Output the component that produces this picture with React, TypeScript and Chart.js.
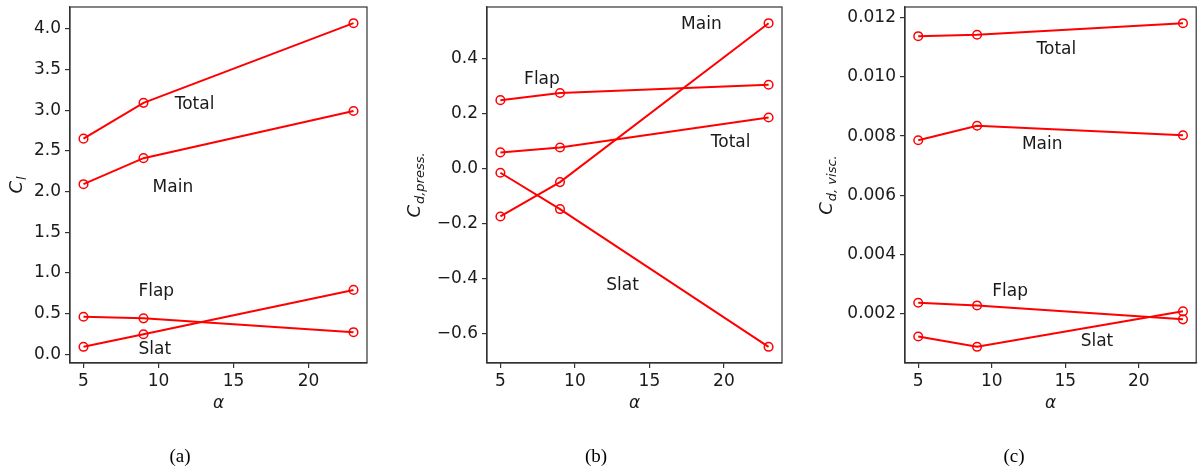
import React, { useEffect, useRef } from "react";
import { Chart, registerables } from "chart.js";

Chart.register(...registerables);

// Angle of attack (deg) at which each case was run
const ALPHA = [5, 9, 23];
const X_TICKS = [5, 10, 15, 20];

// (a) lift coefficient per element
const CL_TOTAL = [2.65, 3.09, 4.07];
const CL_MAIN = [2.09, 2.41, 2.99];
const CL_FLAP = [0.46, 0.44, 0.27];
const CL_SLAT = [0.09, 0.245, 0.79];
const CL_TICKS = [0, 0.5, 1.0, 1.5, 2.0, 2.5, 3.0, 3.5, 4.0];

// (b) pressure drag coefficient per element
const CDP_MAIN = [-0.175, -0.05, 0.528];
const CDP_FLAP = [0.248, 0.274, 0.304];
const CDP_TOTAL = [0.058, 0.076, 0.185];
const CDP_SLAT = [-0.016, -0.148, -0.649];
const CDP_TICKS = [-0.6, -0.4, -0.2, 0, 0.2, 0.4];

// (c) viscous drag coefficient per element
const CDV_TOTAL = [0.01138, 0.01143, 0.01182];
const CDV_MAIN = [0.00786, 0.00835, 0.00803];
const CDV_FLAP = [0.00236, 0.00227, 0.0018];
const CDV_SLAT = [0.00122, 0.00087, 0.00207];
const CDV_TICKS = [0.002, 0.004, 0.006, 0.008, 0.01, 0.012];

const RED = "#ff0000";
const INK = "#1a1a1a";
const AXIS = "#333333";
const FONT = "'DejaVu Sans', sans-serif";
const TEXT_SIZE = 17;
const H = 470;
const AREA_TOP = 7;
const AREA_BOTTOM = 363;
const X_MIN = 4.1;
const X_MAX = 23.9;

interface TextMark {
  text: string;
  x: number;
  y: number;
}

interface PanelSpec {
  key: string;
  left: number;
  width: number;
  areaLeft: number;
  areaRight: number;
  series: number[][];
  marks: TextMark[];
  yTicks: number[];
  yDecimals: number;
  ySub: string;
  yLabelX: number;
  caption: string;
  captionX: number;
}

const PANELS: PanelSpec[] = [
  {
    key: "a",
    left: 0,
    width: 400,
    areaLeft: 70,
    areaRight: 367,
    series: [CL_TOTAL, CL_MAIN, CL_FLAP, CL_SLAT],
    marks: [
      { text: "Total", x: 12.4, y: 3.07 },
      { text: "Main", x: 10.96, y: 2.05 },
      { text: "Flap", x: 9.85, y: 0.77 },
      { text: "Slat", x: 9.75, y: 0.05 },
    ],
    yTicks: CL_TICKS,
    yDecimals: 1,
    ySub: "l",
    yLabelX: 15,
    caption: "(a)",
    captionX: 180,
  },
  {
    key: "b",
    left: 400,
    width: 400,
    areaLeft: 87,
    areaRight: 382,
    series: [CDP_MAIN, CDP_FLAP, CDP_TOTAL, CDP_SLAT],
    marks: [
      { text: "Main", x: 18.49, y: 0.522 },
      { text: "Flap", x: 7.79, y: 0.322 },
      { text: "Total", x: 20.45, y: 0.092 },
      { text: "Slat", x: 13.2, y: -0.427 },
    ],
    yTicks: CDP_TICKS,
    yDecimals: 1,
    ySub: "d,press.",
    yLabelX: 13,
    caption: "(b)",
    captionX: 196,
  },
  {
    key: "c",
    left: 800,
    width: 402,
    areaLeft: 105,
    areaRight: 400,
    series: [CDV_TOTAL, CDV_MAIN, CDV_FLAP, CDV_SLAT],
    marks: [
      { text: "Total", x: 14.39, y: 0.01093 },
      { text: "Main", x: 13.43, y: 0.00771 },
      { text: "Flap", x: 11.25, y: 0.00273 },
      { text: "Slat", x: 17.15, y: 0.00104 },
    ],
    yTicks: CDV_TICKS,
    yDecimals: 3,
    ySub: "d, visc.",
    yLabelX: 25,
    caption: "(c)",
    captionX: 214,
  },
];

function fmt(v: number, decimals: number): string {
  const s = Math.abs(v).toFixed(decimals);
  return v < -1e-12 ? "\u2212" + s : s;
}

// Frame, in-plot series names, axis labels and the sub-figure caption
function decorPlugin(spec: PanelSpec) {
  return {
    id: "decor" + spec.key,
    afterDraw(chart: any) {
      const { ctx, chartArea: a, scales } = chart;
      ctx.save();
      ctx.strokeStyle = AXIS;
      ctx.lineWidth = 1.2;
      ctx.strokeRect(a.left, a.top, a.right - a.left, a.bottom - a.top);

      ctx.fillStyle = INK;
      ctx.font = `${TEXT_SIZE}px ${FONT}`;
      ctx.textAlign = "center";
      ctx.textBaseline = "middle";
      for (const m of spec.marks) {
        ctx.fillText(m.text, scales.x.getPixelForValue(m.x), scales.y.getPixelForValue(m.y));
      }

      // x label
      ctx.font = `italic ${TEXT_SIZE}px ${FONT}`;
      ctx.fillText("\u03b1", (a.left + a.right) / 2, 404);

      // y label: C with a subscript, rotated
      const cy = (a.top + a.bottom) / 2;
      ctx.translate(spec.yLabelX, cy);
      ctx.rotate(-Math.PI / 2);
      ctx.textAlign = "left";
      ctx.textBaseline = "alphabetic";
      ctx.font = `italic 18px ${FONT}`;
      const wC = ctx.measureText("C").width;
      ctx.font = `italic 13px ${FONT}`;
      const wS = ctx.measureText(spec.ySub).width;
      const x0 = -(wC + wS + 1) / 2;
      ctx.font = `italic 18px ${FONT}`;
      ctx.fillText("C", x0, 6.5);
      ctx.font = `italic 13px ${FONT}`;
      ctx.fillText(spec.ySub, x0 + wC + 1, 11);
      ctx.setTransform(1, 0, 0, 1, 0, 0);

      // caption
      ctx.font = `19px 'Liberation Serif', serif`;
      ctx.textAlign = "center";
      ctx.textBaseline = "middle";
      ctx.fillStyle = "#000";
      ctx.fillText(spec.caption, spec.captionX, 457);
      ctx.restore();
    },
  };
}

function Panel({ spec }: { spec: PanelSpec }) {
  const ref = useRef<HTMLCanvasElement>(null);

  useEffect(() => {
    const canvas = ref.current;
    if (!canvas) return;
    const all = spec.series.flat();
    const lo = Math.min(...all);
    const hi = Math.max(...all);
    const margin = (hi - lo) * 0.05;

    const tickFont = { family: FONT, size: TEXT_SIZE };
    const grid = {
      display: true,
      drawOnChartArea: false,
      drawTicks: true,
      tickLength: 5,
      color: AXIS,
      lineWidth: 1.2,
    };
    const border = { display: true, color: AXIS, width: 1.2 };

    const chart = new Chart(canvas, {
      type: "scatter",
      data: {
        datasets: spec.series.map((vals) => ({
          data: ALPHA.map((a, i) => ({ x: a, y: vals[i] })),
          showLine: true,
          borderColor: RED,
          borderWidth: 2,
          tension: 0,
          pointStyle: "circle",
          pointRadius: 4.3,
          pointHoverRadius: 4.3,
          pointBorderWidth: 1.5,
          pointBorderColor: RED,
          pointBackgroundColor: "rgba(0,0,0,0)",
        })),
      },
      options: {
        responsive: false,
        animation: false,
        devicePixelRatio: 1,
        events: [],
        layout: {
          padding: { top: AREA_TOP, left: 0, bottom: 0, right: spec.width - spec.areaRight },
        },
        plugins: {
          legend: { display: false },
          tooltip: { enabled: false },
        },
        scales: {
          x: {
            type: "linear",
            min: X_MIN,
            max: X_MAX,
            afterBuildTicks: (s: any) => {
              s.ticks = X_TICKS.map((v) => ({ value: v }));
            },
            afterFit: (s: any) => {
              s.height = H - AREA_BOTTOM;
              s.paddingLeft = 0;
              s.paddingRight = 0;
            },
            ticks: {
              autoSkip: false,
              maxRotation: 0,
              padding: 3,
              color: INK,
              font: tickFont,
              callback: (v: any) => String(v),
            },
            grid,
            border,
          },
          y: {
            type: "linear",
            min: lo - margin,
            max: hi + margin,
            afterBuildTicks: (s: any) => {
              s.ticks = spec.yTicks.map((v) => ({ value: v }));
            },
            afterFit: (s: any) => {
              s.width = spec.areaLeft;
              s.paddingTop = 0;
              s.paddingBottom = 0;
            },
            ticks: {
              autoSkip: false,
              padding: 4,
              color: INK,
              font: tickFont,
              callback: (v: any) => fmt(Number(v), spec.yDecimals),
            },
            grid,
            border,
          },
        },
      },
      plugins: [decorPlugin(spec)],
    } as any);

    return () => chart.destroy();
  }, [spec]);

  return (
    <canvas
      ref={ref}
      width={spec.width}
      height={H}
      style={{ position: "absolute", left: spec.left, top: 0, width: spec.width, height: H }}
    />
  );
}

export default function App() {
  return (
    <div
      style={{
        position: "absolute",
        left: 0,
        top: 0,
        width: 1202,
        height: H,
        background: "#ffffff",
        overflow: "hidden",
      }}
    >
      {PANELS.map((p) => (
        <Panel key={p.key} spec={p} />
      ))}
    </div>
  );
}
